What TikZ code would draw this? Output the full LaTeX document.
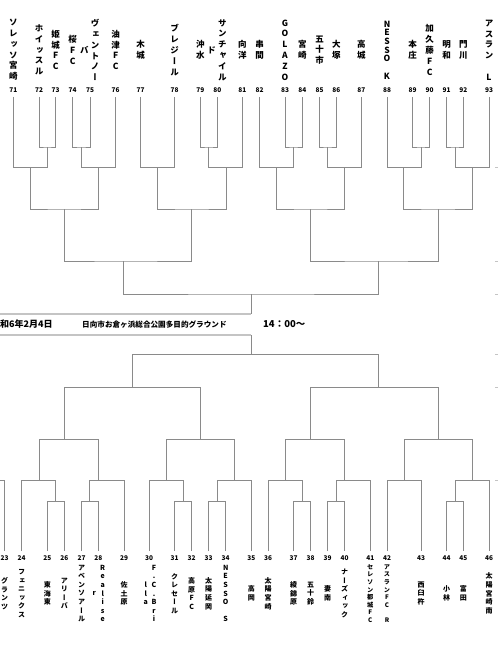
\documentclass[tikz,border=0pt]{standalone}
\usepackage{fontspec}
\usepackage{graphicx}
\newfontfamily\jp{Noto Sans CJK JP}
\newfontfamily\jpv{Noto Sans CJK JP}[RawFeature=+vert]
\definecolor{brk}{HTML}{8A8A8A}
\definecolor{frm}{HTML}{C4C4C4}
\newcommand\bmatch[4]{\coordinate (#1) at (#2); \draw[brk line] (#3) |- (#1) -| (#4);}
\begin{document}
\begin{tikzpicture}[x=1pt,y=-1pt,
  brk line/.style={draw=brk,line width=0.8pt},
  frame line/.style={draw=frm,line width=1.3pt},
  tick line/.style={draw=frm,line width=0.6pt},
  tn/.style={font=\jpv\bfseries\fontsize{8.5}{10.8}\selectfont,align=center,inner sep=0pt},
  tnl/.style={font=\jpv\bfseries\fontsize{8.5}{8.7}\selectfont,align=center,inner sep=0pt},
  bn/.style={font=\jpv\bfseries\fontsize{7}{8.6}\selectfont,align=center,inner sep=0pt},
  bns/.style={font=\jpv\bfseries\fontsize{6.2}{7.6}\selectfont,align=center,inner sep=0pt},
  num/.style={font=\jp\bfseries\fontsize{6.5}{7}\selectfont,inner sep=0pt},
  info/.style={anchor=west,inner sep=0pt}]
\useasboundingbox (0,0) rectangle (498,650);
% ---------- team coordinates and numbers ----------
\foreach \n/\x in {71/13.3,72/39,73/55.7,74/72.7,75/90,76/115.7,77/140.7,78/174.7,79/200.3,80/217.3,81/242.3,82/259.7,83/285,84/302.3,85/319.7,86/336.3,87/361.3,88/387,89/412.7,90/429.7,91/446.7,92/463.3,93/489}{
  \coordinate (t\n) at (\x,97);
  \node[num] (n\n) at (\x,90) {\n};
}
\foreach \n/\x in {23/4.7,24/21.7,25/47.3,26/64.3,27/81.7,28/98.3,29/124,30/149,31/174.7,32/191.7,33/208.7,34/225.7,35/251.3,36/268,37/293.7,38/310.7,39/327.7,40/344.7,41/370.3,42/387,43/421,44/446.7,45/463.3,46/489}{
  \coordinate (t\n) at (\x,551);
  \node[num] (n\n) at (\x,558) {\n};
}
% ---------- top bracket ----------
\bmatch{m1}{47.3,147}{t72}{t73}
\bmatch{m2}{81.3,147}{t74}{t75}
\bmatch{m3}{208.7,147}{t79}{t80}
\bmatch{m4}{293.3,147}{t83}{t84}
\bmatch{m5}{327.3,147}{t85}{t86}
\bmatch{m6}{421,147}{t89}{t90}
\bmatch{m7}{455,147}{t91}{t92}
\bmatch{m8}{30.3,167.7}{t71}{m1}
\bmatch{m9}{98.3,167.7}{m2}{t76}
\bmatch{m10}{157.7,167.7}{t77}{t78}
\bmatch{m11}{226,167.7}{m3}{t81}
\bmatch{m12}{276.7,167.7}{t82}{m4}
\bmatch{m13}{344.7,167.7}{m5}{t87}
\bmatch{m14}{403.7,167.7}{t88}{m6}
\bmatch{m15}{472,167.7}{m7}{t93}
\bmatch{m16}{64.3,209}{m8}{m9}
\bmatch{m17}{191.7,209}{m10}{m11}
\bmatch{m18}{310.7,209}{m12}{m13}
\bmatch{m19}{438.3,209}{m14}{m15}
\bmatch{m20}{123.7,261}{m16}{m17}
\bmatch{m21}{378.3,261}{m18}{m19}
\bmatch{m22}{251.3,294}{m20}{m21}
\coordinate (ctop) at (251.3,314);
\draw[brk line] (m22) -- (ctop);
% ---------- bottom bracket ----------
\bmatch{b1}{55.7,501.3}{t25}{t26}
\bmatch{b2}{89.3,501.3}{t27}{t28}
\bmatch{b3}{183.3,501.3}{t31}{t32}
\bmatch{b4}{217.3,501.3}{t33}{t34}
\bmatch{b5}{302,501.3}{t37}{t38}
\bmatch{b6}{336.3,501.3}{t39}{t40}
\bmatch{b7}{455,501.3}{t44}{t45}
\bmatch{b8}{39,480.7}{t24}{b1}
\bmatch{b9}{98.3,480.7}{b2}{t29}
\bmatch{b10}{166,480.7}{t30}{b3}
\bmatch{b11}{234.3,480.7}{b4}{t35}
\bmatch{b12}{285,480.7}{t36}{b5}
\bmatch{b13}{344.7,480.7}{b6}{t41}
\bmatch{b14}{404,480.7}{t42}{t43}
\bmatch{b15}{472,480.7}{b7}{t46}
\bmatch{b16}{64.3,439.3}{b8}{b9}
\bmatch{b17}{200.3,439.3}{b10}{b11}
\bmatch{b18}{310.7,439.3}{b12}{b13}
\bmatch{b19}{438,439.3}{b14}{b15}
\bmatch{b20}{132.3,387.3}{b16}{b17}
\bmatch{b21}{378,387.3}{b18}{b19}
\bmatch{b22}{251.3,354.3}{b20}{b21}
\coordinate (cbot) at (251.3,335);
\draw[brk line] (b22) -- (cbot);
\coordinate (e23) at (0,480.7);
\draw[brk line] (t23) |- (e23);
% ---------- frame lines and edge ticks ----------
\coordinate (f1) at (0,314);
\coordinate (f2) at (0,335);
\draw[frame line] (f1) -- (ctop);
\draw[frame line] (f2) -- (cbot);
\foreach \y in {167.7,261,294,354.3,387,480.7}{
  \coordinate (ka) at (495,\y); \coordinate (kb) at (498,\y);
  \draw[tick line] (ka) -- (kb);
}
% ---------- info row ----------
\node[info,font=\jp\bfseries\fontsize{9}{10}\selectfont] (date) at (0,324.5) {和6年2月4日};
\node[info,font=\jp\bfseries\fontsize{7.6}{9}\selectfont] (venue) at (82,324.5) {日向市お倉ヶ浜総合公園多目的グラウンド};
\node[info,font=\jp\bfseries\fontsize{9.5}{10}\selectfont] (time) at (263,324.5) {14：00～};
% ---------- top team names ----------
\node[tn] (s71) at (13.3,50) {ソ\\レ\\ッ\\ソ\\宮\\崎};
\node[tn] (s72) at (39,50) {ホ\\イ\\ッ\\ス\\ル};
\node[tn] (s73) at (55.7,50) {姫\\城\\F\\C};
\node[tn] (s74) at (72.7,50) {桜\\F\\C};
\node[tn] (s75a) at (95,50) {ヴ\\ェ\\ン\\ト\\ノ\\ー};
\node[tn] (s75b) at (84.3,50) {バ};
\node[tn] (s76) at (115.7,50) {油\\津\\F\\C};
\node[tn] (s77) at (140.7,50) {木\\城};
\node[tn] (s78) at (174.7,50) {ブ\\レ\\ジ\\ー\\ル};
\node[tn] (s79) at (200.3,50) {沖\\水};
\node[tn] (s80a) at (222.3,50) {サ\\ン\\チ\\ャ\\イ\\ル};
\node[tn] (s80b) at (211.7,50) {ド};
\node[tn] (s81) at (242.3,50) {向\\洋};
\node[tn] (s82) at (259.7,50) {串\\間};
\node[tn] (s83) at (285,50) {G\\O\\L\\A\\Z\\O};
\node[tn] (s84) at (302.3,50) {宮\\崎};
\node[tn] (s85) at (319.7,50) {五\\十\\市};
\node[tn] (s86) at (336.3,50) {大\\塚};
\node[tn] (s87) at (361.3,50) {高\\城};
\node[tnl] (s88) at (387,50) {N\\E\\S\\S\\O\\\phantom{O}\\K};
\node[tn] (s89) at (412.7,50) {本\\庄};
\node[tn] (s90) at (429.7,50) {加\\久\\藤\\F\\C};
\node[tn] (s91) at (446.7,50) {明\\和};
\node[tn] (s92) at (463.3,50) {門\\川};
\node[tn] (s93) at (489,50) {ア\\ス\\ラ\\ン\\\phantom{ン}\\L};
% ---------- bottom team names ----------
\node[bn] (s23) at (4.7,593.5) {グ\\ラ\\ン\\ツ};
\node[bn] (s24) at (21.7,593.5) {フ\\ェ\\ニ\\ッ\\ク\\ス};
\node[bn] (s25) at (47.3,593.5) {東\\海\\東};
\node[bn] (s26) at (64.3,593.5) {ア\\リ\\ー\\バ};
\node[bn] (s27) at (81.7,593.5) {ア\\ベ\\ン\\ソ\\ア\\ー\\ル};
\node[bn] (s28a) at (102.7,593.5) {R\\e\\a\\l\\i\\s\\e};
\node[bn] (s28b) at (94.3,593.5) {r};
\node[bn] (s29) at (124,593.5) {佐\\土\\原};
\node[bn] (s30a) at (154,593.5) {F\\.\\C\\.\\B\\r\\i};
\node[bn] (s30b) at (145.7,593.5) {l\\l\\a};
\node[bn] (s31) at (174.7,593.5) {ク\\レ\\セ\\ー\\ル};
\node[bn] (s32) at (191.7,593.5) {高\\原\\F\\C};
\node[bn] (s33) at (208.7,593.5) {太\\陽\\延\\岡};
\node[bn] (s34) at (225.7,593.5) {N\\E\\S\\S\\O\\\phantom{O}\\S};
\node[bn] (s35) at (251.3,593.5) {高\\岡};
\node[bn] (s36) at (268,593.5) {太\\陽\\宮\\崎};
\node[bn] (s37) at (293.7,593.5) {綾\\錦\\原};
\node[bn] (s38) at (310.7,593.5) {五\\十\\鈴};
\node[bn] (s39) at (327.7,593.5) {妻\\南};
\node[bn] (s40) at (344.7,593.5) {ナ\\ー\\ズ\\ィ\\ッ\\ク};
\node[bns] (s41) at (370.3,593.5) {セ\\レ\\ソ\\ン\\都\\城\\F\\C};
\node[bns] (s42) at (387,593.5) {ア\\ス\\ラ\\ン\\F\\C\\\phantom{C}\\R};
\node[bn] (s43) at (421,593.5) {西\\臼\\杵};
\node[bn] (s44) at (446.7,593.5) {小\\林};
\node[bn] (s45) at (463.3,593.5) {富\\田};
\node[bn] (s46) at (489,593.5) {太\\陽\\宮\\崎\\南};
\end{tikzpicture}
\end{document}
